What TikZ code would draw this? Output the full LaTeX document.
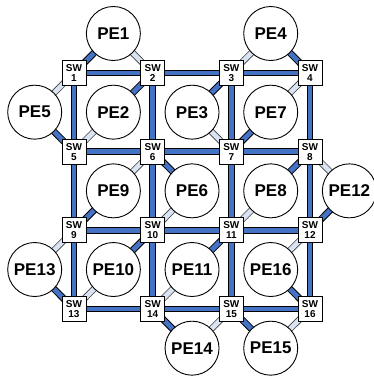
\documentclass[tikz,border=0pt]{standalone}
\usepackage{fontspec}
\setmainfont{Liberation Sans}
\usetikzlibrary{backgrounds}
\definecolor{barblue}{HTML}{4472C4}
\definecolor{barlight}{HTML}{DAE3F3}
\tikzset{
  pe/.style={circle, draw=black, line width=0.9pt, fill=white, minimum size=54pt, inner sep=0pt,
    font=\bfseries\fontsize{17}{17}\selectfont},
  swbox/.style={draw=black, line width=0.8pt, fill=white, minimum width=24pt, minimum height=25pt,
    inner sep=0pt, align=center, font=\bfseries\fontsize{10}{11}\selectfont},
  darkedge/.style={draw=black, line width=1pt, double=barblue, double distance=4.8pt},
  lightedge/.style={draw=black!75, line width=0.8pt, double=barlight, double distance=4.8pt},
}
\begin{document}
\begin{tikzpicture}[x=1pt,y=-1pt]
\useasboundingbox (0,0) rectangle (374,376);
% switches
\foreach \n [count=\k from 0] in {1,...,16}{
  \pgfmathsetmacro{\cx}{74+78.67*mod(\k,4)}
  \pgfmathsetmacro{\cy}{73+78.67*floor(\k/4)}
  \node[swbox] (sw\n) at (\cx,\cy) {SW\\[-1pt]\n};
}
% PEs (column index, row index at half offsets)
\foreach \n/\i/\j in {1/1/0,4/3/0,5/0/1,2/1/1,3/2/1,7/3/1,9/1/2,6/2/2,8/3/2,12/4/2,13/0/3,10/1/3,11/2/3,16/3/3,14/2/4,15/3/4}{
  \pgfmathsetmacro{\cx}{34.7+78.67*\i}
  \pgfmathsetmacro{\cy}{33.5+78.67*\j}
  \node[pe] (pe\n) at (\cx,\cy) {PE\n};
}
\begin{scope}[on background layer]
  % grid
  \foreach \a/\b in {1/2,2/3,3/4,5/6,6/7,7/8,9/10,10/11,11/12,13/14,14/15,15/16,
                     1/5,5/9,9/13,2/6,6/10,10/14,3/7,7/11,11/15,4/8,8/12,12/16}
    \draw[darkedge] (sw\a.center) -- (sw\b.center);
  % PE links: dark
  \foreach \p/\s in {1/1,5/5,2/2,4/4,3/3,7/7,9/9,6/6,8/8,12/12,13/13,10/10,11/11,16/16,14/14,15/15}
    \draw[darkedge] (pe\p.center) -- (sw\s.center);
  % PE links: light
  \foreach \p/\s in {1/2,5/1,2/5,4/3,3/7,7/4,9/6,6/10,8/11,12/8,13/9,10/13,11/14,16/12,14/15,15/16}
    \draw[lightedge] (pe\p.center) -- (sw\s.center);
\end{scope}
\end{tikzpicture}
\end{document}
